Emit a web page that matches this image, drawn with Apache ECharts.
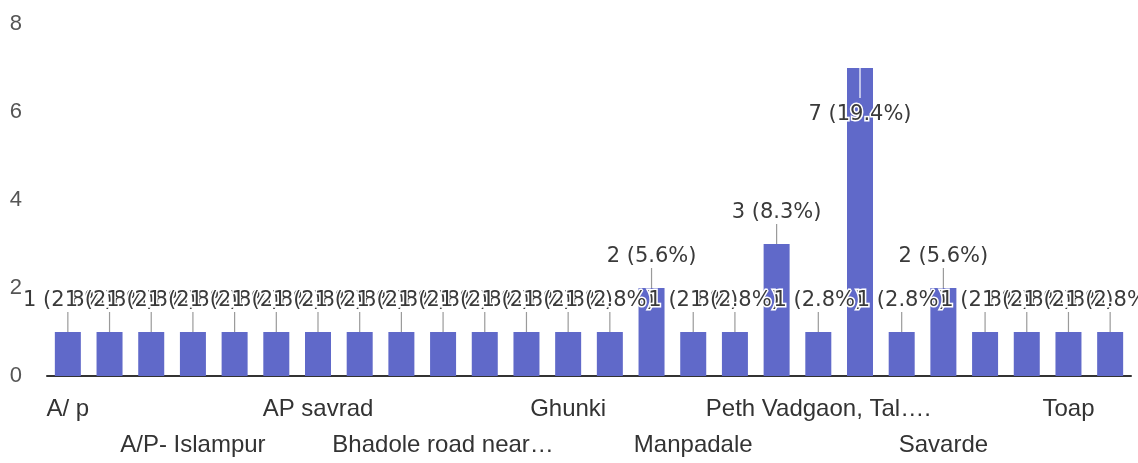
<!DOCTYPE html>
<html>
<head>
<meta charset="utf-8">
<title>Responses by village</title>
<script src="https://cdn.jsdelivr.net/npm/echarts@6/dist/echarts.min.js"></script>
<style>
  html, body { margin: 0; padding: 0; background: #fff; }
  #chart { width: 1138px; height: 463px; }
</style>
</head>
<body>
<div id="chart"></div>
<script>
// Villages named in the answers (alphabetical, as the form lists them)
const categories = [
  'A/ p', 'A/P Ashta', 'A/P Bahe', 'A/P- Islampur', 'AP Kasegaon', 'AP Nerle',
  'AP savrad', 'Ashta', 'Bahe', 'Bhadole road near…', 'Borgaon', 'Gotkhindi',
  'Ghunki', 'Islampur', 'Kameri', 'Manpadale', 'Nerle', 'Peth',
  'Peth Vadgaon, Tal….', 'Rethare', 'Sangli', 'Savarde', 'Shigaon', 'Tandulwadi',
  'Toap', 'Walwa'
];

// Number of responses per village
const responses = [
  1, 1, 1, 1, 1, 1,
  1, 1, 1, 1, 1, 1,
  1, 1, 2, 1, 1, 3,
  1, 7, 1, 2, 1, 1,
  1, 1
];

// Value axis ticks
const yTicks = [0, 2, 4, 6, 8];

const total = responses.reduce((a, b) => a + b, 0);
const pct = v => (v / total * 100).toFixed(1);

const barColor = '#6069c9';
const labelFont = 'DejaVu Sans';
const axisFont = 'Liberation Sans';
const insideFrom = 6; // bars this tall carry their label inside

const barData = responses.map(v => v > insideFrom
  ? { value: v, label: { position: 'insideTop', distance: 36 } }
  : v);

const chart = echarts.init(document.getElementById('chart'), null, { renderer: 'canvas' });

chart.setOption({
  animation: false,
  backgroundColor: '#ffffff',
  grid: { left: 47, right: 7, top: 24, bottom: 76, containLabel: false },
  xAxis: {
    type: 'category',
    data: categories,
    axisLine: { show: true, lineStyle: { color: '#333', width: 2 } },
    axisTick: { show: false },
    splitLine: { show: false },
    axisLabel: {
      interval: 2,
      margin: 15,
      color: '#333',
      fontFamily: axisFont,
      fontSize: 24,
      lineHeight: 36,
      formatter: (value, index) => (Math.round(index / 3) % 2 === 1 ? '\n' + value : value)
    }
  },
  yAxis: {
    type: 'value',
    min: yTicks[0],
    max: yTicks[yTicks.length - 1],
    interval: yTicks[1] - yTicks[0],
    axisLine: { show: false },
    axisTick: { show: false },
    splitLine: { show: false },
    axisLabel: {
      margin: 25,
      color: '#555',
      fontFamily: axisFont,
      fontSize: 22
    }
  },
  series: [
    {
      type: 'bar',
      data: barData,
      barWidth: 26,
      itemStyle: { color: barColor },
      label: {
        show: true,
        position: 'top',
        distance: 21,
        color: '#3a3a3a',
        fontFamily: labelFont,
        fontSize: 21,
        textBorderColor: '#fff',
        textBorderWidth: 3,
        formatter: p => p.value + ' (' + pct(p.value) + '%)'
      },
      z: 2
    },
    {
      // Leader stems joining each count label to its bar
      type: 'custom',
      data: responses.map((v, i) => [i, v]),
      silent: true,
      z: 3,
      renderItem: (params, api) => {
        const v = api.value(1);
        const top = api.coord([api.value(0), v]);
        const inside = v > insideFrom;
        const y1 = inside ? top[1] : top[1] - 20;
        const y2 = inside ? top[1] + 30 : top[1];
        return {
          type: 'line',
          shape: { x1: top[0], y1: y1, x2: top[0], y2: y2 },
          style: { stroke: inside ? '#ffffff' : '#9a9a9a', lineWidth: 1.2 }
        };
      }
    }
  ]
});
</script>
</body>
</html>
